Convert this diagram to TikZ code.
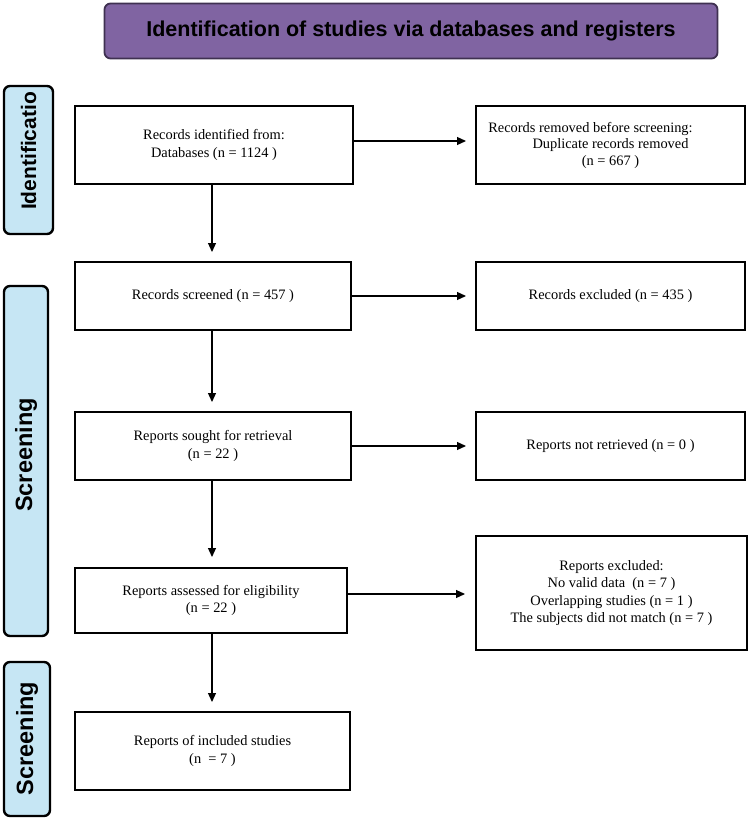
\documentclass[tikz,border=0pt]{standalone}
\usepackage{fontspec}
\setmainfont{Liberation Serif}
\setsansfont{Liberation Sans}
\usetikzlibrary{arrows.meta}
\definecolor{titlepurple}{HTML}{8064A2}
\definecolor{titleborder}{HTML}{3F3151}
\definecolor{sideblue}{HTML}{C6E6F4}
\tikzset{
  x=1pt, y=-1pt,
  flowbox/.style={draw=black, line width=1.1pt, fill=white, align=center, font=\fontsize{14.4}{17.5}\selectfont},
  sidebar/.style={draw=black, line width=2.4pt, fill=sideblue, rounded corners=6pt},
  sidelabel/.style={rotate=90, font=\sffamily\bfseries\fontsize{23.5}{26}\selectfont},
  conn/.style={line width=1.2pt, -{Triangle[length=9pt,width=8pt]}},
}
\begin{document}
\begin{tikzpicture}
\useasboundingbox (0,0) rectangle (750,818);
% title
\node[draw=titleborder, line width=1.8pt, fill=titlepurple, rounded corners=6pt,
  minimum width=613pt, minimum height=55pt, font=\sffamily\bfseries\fontsize{21.5}{24}\selectfont]
  (title) at (411,31) {Identification of studies via databases and registers};
% side bars
\draw[sidebar] (4,86) rectangle (53,234);
\node[sidelabel, font=\sffamily\bfseries\fontsize{21}{24}\selectfont] (sideid) at (28.5,151) {Identificatio};
\draw[sidebar] (4,286) rectangle (48,636);
\node[sidelabel] (sidescr) at (26,455) {Screening};
\draw[sidebar] (4,662) rectangle (50,816);
\node[sidelabel] (sideinc) at (27,738.5) {Screening};
% left column boxes
\node[flowbox, minimum width=278pt, minimum height=78pt] (ident) at (214,145) {Records identified from:\\Databases (n = 1124 )};
\node[flowbox, minimum width=276pt, minimum height=68pt] (screen) at (213,296) {Records screened (n = 457 )};
\node[flowbox, minimum width=276pt, minimum height=68pt] (sought) at (213,446) {Reports sought for retrieval\\(n = 22 )};
\node[flowbox, minimum width=272pt, minimum height=65pt] (assess) at (211,600.5) {Reports assessed for eligibility\\(n = 22 )};
\node[flowbox, minimum width=275pt, minimum height=78pt] (incl) at (212.5,751) {Reports of included studies\\(n \ = 7 )};
% right column boxes
\node[flowbox, minimum width=269pt, minimum height=78pt, font=\fontsize{14.4}{16.5}\selectfont] (removed) at (610.5,145) {\hspace*{-40pt}Records removed before screening:\\Duplicate records removed\\(n = 667 )};
\node[flowbox, minimum width=269pt, minimum height=68pt] (excl) at (610.5,296) {Records excluded (n = 435 )};
\node[flowbox, minimum width=269pt, minimum height=68pt] (notret) at (610.5,446) {Reports not retrieved (n = 0 )};
\node[flowbox, minimum width=271pt, minimum height=114pt] (repexcl) at (611.5,593) {Reports excluded:\\No valid data \ (n = 7 )\\Overlapping studies (n = 1 )\\The subjects did not match (n = 7 )};
% vertical connectors
\coordinate (v1) at (212,252);
\draw[conn] (212,184) -- (v1);
\coordinate (v2) at (212,402);
\draw[conn] (212,330) -- (v2);
\coordinate (v3) at (212,557);
\draw[conn] (212,480) -- (v3);
\coordinate (v4) at (212,702);
\draw[conn] (212,633) -- (v4);
% horizontal connectors
\coordinate (h1) at (466,141);
\draw[conn] (ident.east |- h1) -- (h1);
\coordinate (h2) at (466,296);
\draw[conn] (screen.east) -- (h2);
\coordinate (h3) at (466,446);
\draw[conn] (sought.east) -- (h3);
\coordinate (h4) at (465,594);
\draw[conn] (assess.east |- h4) -- (h4);
\end{tikzpicture}
\end{document}
